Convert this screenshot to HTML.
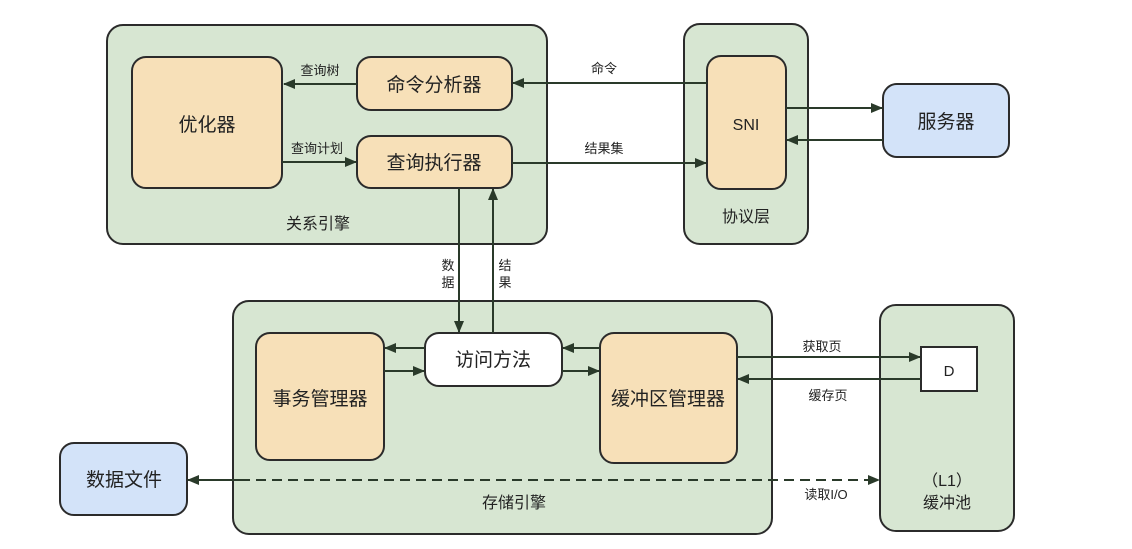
<!DOCTYPE html>
<html><head><meta charset="utf-8"><style>
html,body{margin:0;padding:0;background:#fff;width:1132px;height:549px;overflow:hidden}
svg text{font-family:"Liberation Sans","Noto Sans CJK SC",sans-serif;fill:#222}
</style></head><body>
<svg width="1132" height="549" viewBox="0 0 1132 549" xmlns="http://www.w3.org/2000/svg">
<defs>
<marker id="a" markerWidth="12" markerHeight="10" refX="11" refY="5" orient="auto" markerUnits="userSpaceOnUse">
<path d="M0,0 L12,5 L0,10 Z" fill="#2a3a2a"/></marker>
</defs>
<g stroke="#2b2b2b" stroke-width="2">
<rect x="107" y="25" width="440" height="219" rx="16" fill="#d7e6d2"/>
<rect x="684" y="24" width="124" height="220" rx="16" fill="#d7e6d2"/>
<rect x="233" y="301" width="539" height="233" rx="16" fill="#d7e6d2"/>
<rect x="880" y="305" width="134" height="226" rx="16" fill="#d7e6d2"/>
<rect x="132" y="57" width="150" height="131" rx="14" fill="#f7e0b8"/>
<rect x="357" y="57" width="155" height="53" rx="14" fill="#f7e0b8"/>
<rect x="357" y="136" width="155" height="52" rx="14" fill="#f7e0b8"/>
<rect x="707" y="56" width="79" height="133" rx="14" fill="#f7e0b8"/>
<rect x="883" y="84" width="126" height="73" rx="14" fill="#d3e3f9"/>
<rect x="256" y="333" width="128" height="127" rx="14" fill="#f7e0b8"/>
<rect x="425" y="333" width="137" height="53" rx="14" fill="#ffffff"/>
<rect x="600" y="333" width="137" height="130" rx="14" fill="#f7e0b8"/>
<rect x="60" y="443" width="127" height="72" rx="14" fill="#d3e3f9"/>
<rect x="921" y="347" width="56" height="44" fill="#ffffff"/>
</g>
<g stroke="#2a3a2a" stroke-width="2" fill="none" marker-end="url(#a)">
<line x1="357" y1="84" x2="284" y2="84"/>
<line x1="282" y1="162" x2="356" y2="162"/>
<line x1="707" y1="83" x2="513" y2="83"/>
<line x1="512" y1="163" x2="706" y2="163"/>
<line x1="786" y1="108" x2="882" y2="108"/>
<line x1="883" y1="140" x2="787" y2="140"/>
<line x1="459" y1="188" x2="459" y2="332"/>
<line x1="493" y1="333" x2="493" y2="189"/>
<line x1="425" y1="348" x2="385" y2="348"/>
<line x1="384" y1="371" x2="424" y2="371"/>
<line x1="600" y1="348" x2="563" y2="348"/>
<line x1="562" y1="371" x2="599" y2="371"/>
<line x1="737" y1="357" x2="920" y2="357"/>
<line x1="921" y1="379" x2="738" y2="379"/>
<line x1="240" y1="480" x2="879" y2="480" stroke-dasharray="10,6"/>
<line x1="240" y1="480" x2="188" y2="480"/>
</g>
<g font-size="19" text-anchor="middle">
<text x="207" y="131">优化器</text>
<text x="434" y="91">命令分析器</text>
<text x="434" y="169">查询执行器</text>
<text x="746" y="130" font-size="16">SNI</text>
<text x="946" y="128">服务器</text>
<text x="320" y="405">事务管理器</text>
<text x="493" y="366">访问方法</text>
<text x="668" y="405">缓冲区管理器</text>
<text x="124" y="486">数据文件</text>
<text x="949" y="376" font-size="15">D</text>
</g>
<g font-size="16" text-anchor="middle">
<text x="318" y="229">关系引擎</text>
<text x="746" y="222">协议层</text>
<text x="514" y="508">存储引擎</text>
<text x="947" y="486">（L1）</text>
<text x="947" y="508">缓冲池</text>
</g>
<g font-size="13" text-anchor="middle">
<text x="320" y="75">查询树</text>
<text x="317" y="153">查询计划</text>
<text x="604" y="73">命令</text>
<text x="604" y="153">结果集</text>
<text x="448" y="270">数</text>
<text x="448" y="287">据</text>
<text x="505" y="270">结</text>
<text x="505" y="287">果</text>
<text x="822" y="351">获取页</text>
<text x="828" y="400">缓存页</text>
<text x="826" y="499">读取I/O</text>
</g>
</svg>
</body></html>
